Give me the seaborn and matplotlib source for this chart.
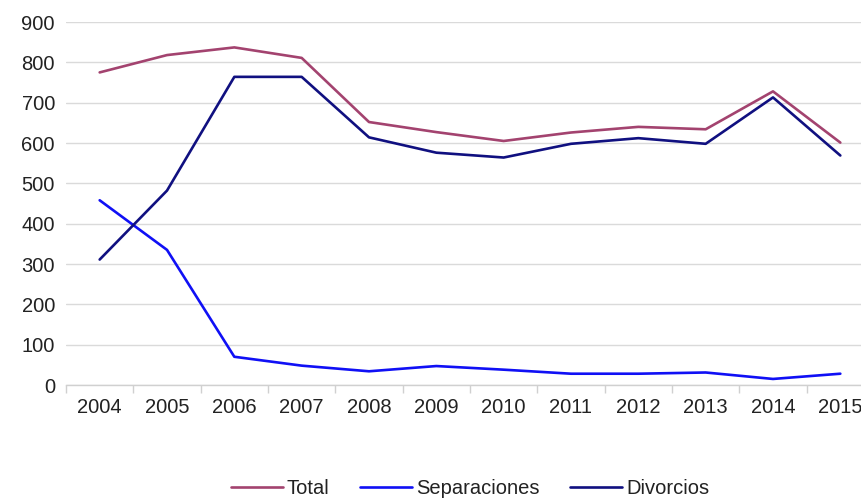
import matplotlib
matplotlib.use("Agg")
import matplotlib.pyplot as plt
import seaborn as sns
import pandas as pd
from matplotlib.ticker import MultipleLocator, FixedLocator

years = [2004, 2005, 2006, 2007, 2008, 2009, 2010, 2011, 2012, 2013, 2014, 2015]
total = [775, 818, 837, 811, 652, 627, 605, 626, 640, 634, 728, 601]
separaciones = [458, 335, 70, 48, 34, 47, 38, 28, 28, 31, 15, 28]
divorcios = [311, 482, 764, 764, 614, 576, 564, 598, 612, 598, 713, 569]
series_names = ["Total", "Separaciones", "Divorcios"]
colors = ["#A3436F", "#1010F5", "#101080"]

df = pd.DataFrame({
    "year": years * 3,
    "value": total + separaciones + divorcios,
    "serie": [series_names[0]] * len(years) + [series_names[1]] * len(years) + [series_names[2]] * len(years),
})

sns.set_theme(style="white")
plt.rcParams["font.family"] = ["Liberation Sans", "DejaVu Sans"]

fig = plt.figure(figsize=(8.62, 4.98), dpi=100)
ax = fig.add_axes([66 / 862, 113 / 498, 808 / 862, 363 / 498])

sns.lineplot(data=df, x="year", y="value", hue="serie", hue_order=series_names,
             palette=dict(zip(series_names, colors)), linewidth=1.9, ax=ax)

ax.set_xlim(2003.5, 2015.5)
ax.set_ylim(0, 900)
ax.yaxis.set_major_locator(MultipleLocator(100))
ax.set_xticks(years)
ax.set_xticklabels([str(y) for y in years])
ax.xaxis.set_minor_locator(FixedLocator([y - 0.5 for y in years] + [2015.5]))
ax.tick_params(axis="x", which="major", length=0, pad=9, labelsize=14.5, colors="#222222")
ax.tick_params(axis="x", which="minor", length=6, width=1, color="#d0d0d0", bottom=True)
ax.tick_params(axis="y", length=0, pad=8, labelsize=14.5, colors="#222222")
ax.grid(axis="y", color="#dadada", linewidth=1)
ax.set_axisbelow(True)
for s in ["top", "right", "left"]:
    ax.spines[s].set_visible(False)
ax.spines["bottom"].set_color("#d0d0d0")
ax.spines["bottom"].set_linewidth(1)
ax.set_xlabel("")
ax.set_ylabel("")

leg = ax.legend(loc="center", bbox_to_anchor=(0.5, -0.284), ncol=3, frameon=False,
                fontsize=14.5, handlelength=2.6, handletextpad=0.2, columnspacing=1.5)
for t in leg.get_texts():
    t.set_color("#222222")
for line in leg.get_lines():
    line.set_linewidth(1.9)

fig.savefig("out.png", dpi=100)
